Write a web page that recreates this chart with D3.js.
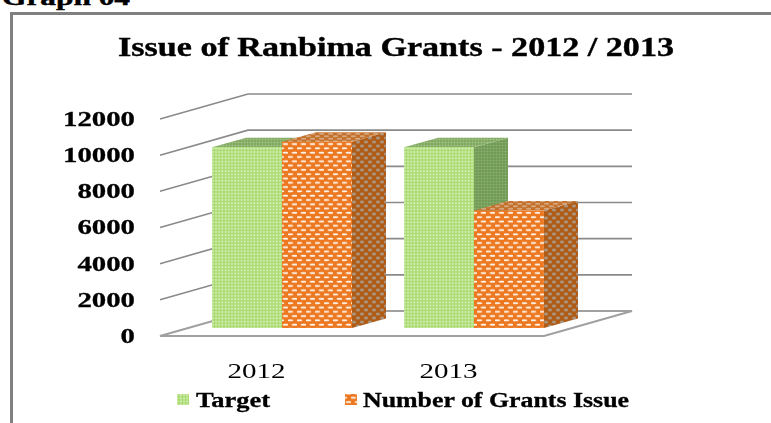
<!DOCTYPE html>
<html><head><meta charset="utf-8">
<script src="https://cdn.jsdelivr.net/npm/d3@7/dist/d3.min.js"></script>
<style>html,body{margin:0;padding:0;background:#fff;overflow:hidden}svg{display:block}
text{font-family:"Liberation Serif",serif;fill:#000}</style></head>
<body><svg id="c" width="771" height="423"></svg>
<script>
const categories = ["2012", "2013"];
const target = [10000, 10000];
const grantsIssued = [10300, 6500];
const tickValues = [0, 2000, 4000, 6000, 8000, 10000, 12000];
const seriesNames = ["Target", "Number of Grants Issue"];
const titleText = "Issue of Ranbima Grants - 2012 / 2013";
const captionText = "Graph 04";

const svg = d3.select("#c");
const defs = svg.append("defs");
const soft = defs.append("filter").attr("id","soft").attr("x","-5%").attr("y","-20%").attr("width","110%").attr("height","140%");
soft.append("feGaussianBlur").attr("stdDeviation",0.4);
const softer = defs.append("filter").attr("id","softer");
softer.append("feGaussianBlur").attr("stdDeviation",0.4);

function dots(id, bg, fg, s, r){
  const p = defs.append("pattern").attr("id",id).attr("patternUnits","userSpaceOnUse").attr("width",s).attr("height",s);
  p.append("rect").attr("width",s).attr("height",s).attr("fill",bg);
  [[s/4,s/4],[3*s/4,s/4],[s/4,3*s/4],[3*s/4,3*s/4]].forEach(d=>p.append("circle").attr("cx",d[0]).attr("cy",d[1]).attr("r",r).attr("fill",fg));
}
function lens(id, bg, fg, w, h, rx, ry){
  const p = defs.append("pattern").attr("id",id).attr("patternUnits","userSpaceOnUse").attr("width",w).attr("height",h);
  p.append("rect").attr("width",w).attr("height",h).attr("fill",bg);
  [[w/4,h/4],[3*w/4,3*h/4]].forEach(d=>p.append("ellipse").attr("cx",d[0]).attr("cy",d[1]).attr("rx",rx).attr("ry",ry).attr("fill",fg));
}
dots("gFront","#a8da6e","#d9f1bd",6.4,1.05);
dots("gSide","#6f9a52","#8aae72",6,1.1);
dots("gTop","#7ea65c","#a3c288",6,1.1);
lens("oFront","#ec7820","#fff6ec",9,8.6,3.2,1.05);
lens("oSide","#b05c16","#a8937f",8,8,2.1,1.5);
lens("oTop","#c4702a","#d6a67c",9,5,3,0.9);

const y = d3.scaleLinear().domain([0,12000]).range([336,119]);
const x0 = d3.scaleBand().domain(categories).range([160,544]);
const x1 = d3.scaleBand().domain(seriesNames).range([0,140]);
const depth = {dx:88, dy:-25};
const barShift = {dx:26, dy:-8};
const barDepth = {dx:34, dy:-9.5};

// frame
svg.append("path").attr("d","M11.5,423V13.5H771").attr("fill","none").attr("stroke","#808080").attr("stroke-width",3);

// caption and title
svg.append("text").attr("x",2).attr("y",5).attr("font-size",22).attr("font-weight","bold")
  .attr("textLength",128).attr("lengthAdjust","spacingAndGlyphs").attr("stroke","#000").attr("stroke-width",0.4).text(captionText);
svg.append("text").attr("x",118).attr("y",56).attr("font-size",28).attr("font-weight","bold")
  .attr("textLength",556).attr("lengthAdjust","spacingAndGlyphs").attr("stroke","#000").attr("stroke-width",0.4).attr("filter","url(#soft)").text(titleText);

// walls
const grid = svg.append("g").attr("fill","none").attr("stroke","#8a8a8a").attr("stroke-width",1.6);
grid.selectAll("path").data(tickValues.filter(d=>d>0)).join("path")
  .attr("d",d=>`M160,${y(d)}L${160+depth.dx},${y(d)+depth.dy}H632`);
// floor
svg.append("path").attr("fill","#fff").attr("stroke","#a0a0a0").attr("stroke-width",2)
  .attr("d",`M160,${y(0)}H544L632,${y(0)+depth.dy}H${160+depth.dx}Z`);

// axis
const axis = svg.append("g").attr("transform","translate(135,-1)")
  .call(d3.axisLeft(y).tickValues(tickValues).tickSize(0).tickPadding(0).tickFormat(d3.format("d")));
axis.select(".domain").remove();
axis.selectAll("text").attr("font-size",22).attr("font-weight","bold").attr("dy","0.34em")
  .style("font-family",'"Liberation Serif",serif').attr("fill","#000").attr("stroke","#000").attr("stroke-width",0.3)
  .attr("textLength",d=>String(d).length*14.4).attr("lengthAdjust","spacingAndGlyphs").attr("filter","url(#soft)");

// bars
const rows = categories.flatMap((c,i)=>[
  {c, s:seriesNames[0], v:target[i], f:"g"},
  {c, s:seriesNames[1], v:grantsIssued[i], f:"o"}
]);
const base = y(0)+barShift.dy;
const bars = svg.append("g").attr("filter","url(#softer)").selectAll("g").data(rows).join("g");
bars.each(function(d){
  const g = d3.select(this);
  const xl = x0(d.c)+x0.bandwidth()/2-70+barShift.dx+x1(d.s);
  const xr = xl+x1.bandwidth();
  const top = base-(y(0)-y(d.v));
  const {dx,dy} = barDepth;
  g.append("path").attr("fill",`url(#${d.f}Side)`).attr("d",`M${xr},${top}L${xr+dx},${top+dy}V${base+dy}L${xr},${base}Z`);
  g.append("path").attr("fill",`url(#${d.f}Top)`).attr("d",`M${xl},${top}L${xl+dx},${top+dy}H${xr+dx}L${xr},${top}Z`);
  g.append("rect").attr("x",xl).attr("y",top).attr("width",xr-xl).attr("height",base-top).attr("fill",`url(#${d.f}Front)`);
});

// category labels
svg.append("g").selectAll("text").data(categories).join("text")
  .attr("x",d=>x0(d)+x0.bandwidth()/2+0.5).attr("y",378).attr("text-anchor","middle").attr("font-size",22)
  .attr("textLength",58).attr("lengthAdjust","spacingAndGlyphs").attr("filter","url(#soft)").text(d=>d);

// legend
const legendPos = [{sx:177,tx:196,tw:74,fill:"gFront"},{sx:345,tx:363,tw:266,fill:"oFront"}];
const leg = svg.append("g").selectAll("g").data(seriesNames).join("g");
leg.append("rect").attr("x",(d,i)=>legendPos[i].sx).attr("y",394).attr("width",12).attr("height",11)
  .attr("fill",(d,i)=>`url(#${legendPos[i].fill})`).attr("filter","url(#softer)");
leg.append("text").attr("x",(d,i)=>legendPos[i].tx).attr("y",407).attr("font-size",20).attr("font-weight","bold")
  .attr("stroke","#000").attr("stroke-width",0.3)
  .attr("textLength",(d,i)=>legendPos[i].tw).attr("lengthAdjust","spacingAndGlyphs").attr("filter","url(#soft)").text(d=>d);
</script></body></html>
